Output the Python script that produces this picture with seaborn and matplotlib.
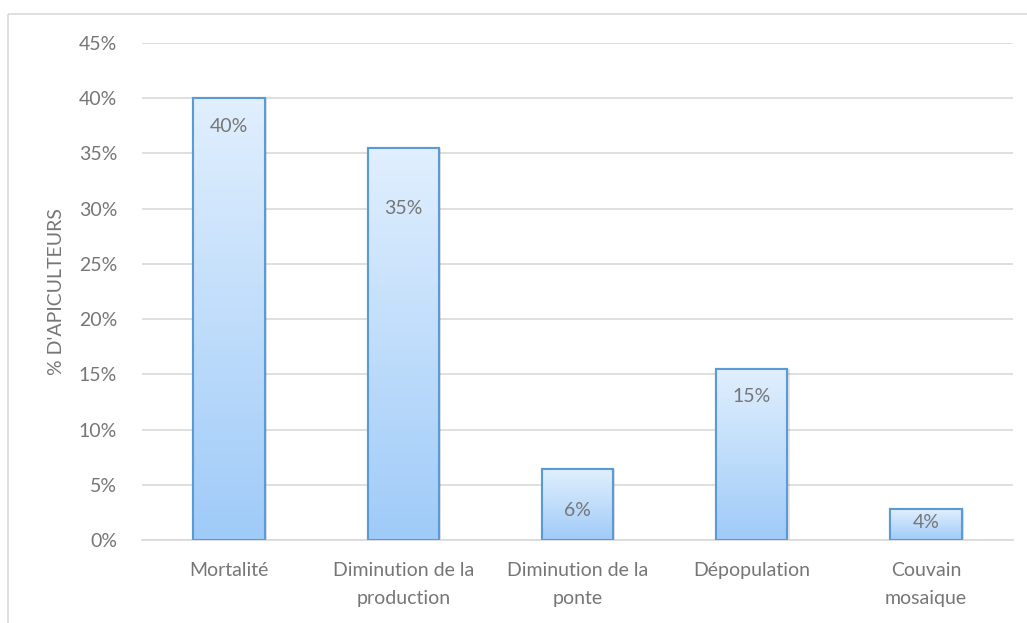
import numpy as np
import pandas as pd
import matplotlib
matplotlib.use("Agg")
import matplotlib.pyplot as plt
import seaborn as sns
from matplotlib.patches import Rectangle
from matplotlib.colors import LinearSegmentedColormap

categories = ["Mortalité", "Diminution de la\nproduction", "Diminution de la\nponte",
              "Dépopulation", "Couvain\nmosaique"]
values = [0.40, 0.355, 0.064, 0.155, 0.028]
value_labels = ["40%", "35%", "6%", "15%", "4%"]
y_ticks = [0.0, 0.05, 0.10, 0.15, 0.20, 0.25, 0.30, 0.35, 0.40, 0.45]
y_tick_labels = ["0%", "5%", "10%", "15%", "20%", "25%", "30%", "35%", "40%", "45%"]
y_title = "% D'APICULTEURS"

# label offsets below bar top (pixels) - layout only
label_offsets_px = [28, 61, 41, 28, 13]

sns.set_theme(style="white")
plt.rcParams["font.family"] = ["Lato", "DejaVu Sans"]

W, H = 1027, 623
FS = 14
TXT = "#767676"
fig = plt.figure(figsize=(W / 100, H / 100), dpi=100)
ax = fig.add_axes([142 / W, (H - 540) / H, (1013 - 142) / W, (540 - 43) / H])

df = pd.DataFrame({"cat": categories, "val": values})
sns.barplot(data=df, x="cat", y="val", ax=ax, width=0.41, color="#bcdcfb",
            edgecolor="#5b9bd5", linewidth=1.5, zorder=3)

ax.set_ylim(0, 0.45)
ax.set_xlim(-0.5, len(categories) - 0.5)
ax.set_yticks(y_ticks)
ax.set_yticklabels(y_tick_labels)
ax.set_xticks(range(len(categories)))
ax.set_xticklabels(categories, linespacing=1.8)
ax.yaxis.grid(True, color="#d9d9d9", linewidth=1.2, zorder=0)
ax.xaxis.grid(False)
for s in ["top", "right", "left"]:
    ax.spines[s].set_visible(False)
ax.spines["bottom"].set_color("#d9d9d9")
ax.spines["bottom"].set_linewidth(1.2)
ax.tick_params(axis="both", length=0, labelsize=FS, colors=TXT)
ax.tick_params(axis="y", pad=18)
ax.tick_params(axis="x", pad=16)
ax.set_xlabel("")
ax.set_ylabel(y_title, fontsize=FS, color=TXT, labelpad=10)

# gradient fill clipped to each bar
grad = np.linspace(0, 1, 256).reshape(-1, 1)
cmap = LinearSegmentedColormap.from_list("g", ["#9fcbf8", "#e1effe"])
for p in list(ax.patches):
    x0, y0 = p.get_x(), p.get_y()
    w, h = p.get_width(), p.get_height()
    sh = Rectangle((x0 + 0.012, y0), w, h, facecolor="#000000", alpha=0.10,
                   edgecolor="none", zorder=2.5)
    ax.add_patch(sh)
    im = ax.imshow(grad, extent=[x0, x0 + w, y0, y0 + h], origin="lower",
                   aspect="auto", cmap=cmap, zorder=3.1)
    im.set_clip_path(p)
    edge = Rectangle((x0, y0), w, h, facecolor="none", edgecolor="#5b9bd5",
                     linewidth=1.5, zorder=3.2)
    ax.add_patch(edge)

for i, (v, lab) in enumerate(zip(values, value_labels)):
    ax.annotate(lab, xy=(i, v), xytext=(0, -label_offsets_px[i] * 0.72),
                textcoords="offset points", ha="center", va="center",
                fontsize=FS, color=TXT, zorder=5)

border = Rectangle((8 / W, 1 - 14 / H), 1.2, -1.2, transform=fig.transFigure,
                   facecolor="none", edgecolor="#d9d9d9", linewidth=1.2,
                   clip_on=False)
fig.patches.append(border)

fig.savefig("out.png", dpi=100)
